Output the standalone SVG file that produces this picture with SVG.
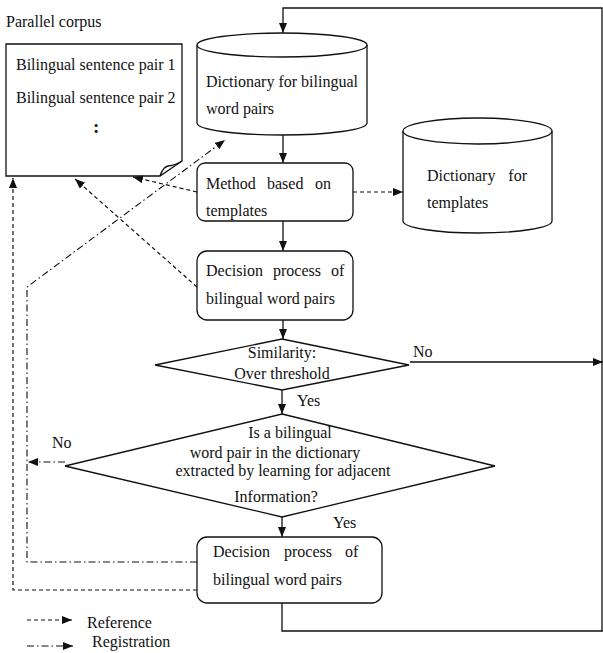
<svg xmlns="http://www.w3.org/2000/svg" width="603" height="653" viewBox="0 0 603 653">
<defs>
<style>
text{font-family:"Liberation Serif","Times New Roman",serif;font-size:16px;fill:#111}
.s{fill:#fff;stroke:#111;stroke-width:1.3}
.ln{fill:none;stroke:#111;stroke-width:1.3}
.da{fill:none;stroke:#111;stroke-width:1.2;stroke-dasharray:4 3}
.dd{fill:none;stroke:#111;stroke-width:1.1;stroke-dasharray:7 3 1.5 3}
.c{text-anchor:middle}
</style>
<marker id="ah" markerUnits="userSpaceOnUse" markerWidth="10" markerHeight="8" refX="10" refY="4" orient="auto">
<path d="M0,0 L10,4 L0,8 z" fill="#111"/>
</marker>
</defs>
<rect width="603" height="653" fill="#fff"/>

<g id="corpus">
<text x="6" y="27">Parallel corpus</text>
<path class="s" d="M6,44 H182 V161 L160,176 H6 Z"/>
<path class="ln" d="M160,176 Q163,167 168,166 Q176,165 182,161"/>
<text x="16" y="70">Bilingual sentence pair 1</text>
<text x="16" y="103">Bilingual sentence pair 2</text>
<text x="93" y="133" style="font-size:19px;font-weight:bold">:</text>
</g>

<g id="dict-words">
<path class="s" d="M197,45 V123 A85,12 0 0 0 367,123 V45"/>
<ellipse class="s" cx="282" cy="45" rx="85" ry="12"/>
<text x="206" y="87">Dictionary for bilingual</text>
<text x="206" y="114">word pairs</text>
</g>

<g id="method">
<rect class="s" x="197" y="163" width="156" height="58" rx="8"/>
<text y="189"><tspan x="206">Method</tspan><tspan x="267">based</tspan><tspan x="315">on</tspan></text>
<text x="206" y="216">templates</text>
</g>

<g id="dict-templates">
<path class="s" d="M403,131 V221 A74.5,12 0 0 0 552,221 V131"/>
<ellipse class="s" cx="477.5" cy="131" rx="74.5" ry="13"/>
<text x="427" y="181">Dictionary</text>
<text x="527" y="181" style="text-anchor:end">for</text>
<text x="427" y="208">templates</text>
</g>

<g id="decision1">
<rect class="s" x="197" y="251" width="156" height="69" rx="10"/>
<text y="276"><tspan x="206">Decision</tspan><tspan x="273">process</tspan><tspan x="331">of</tspan></text>
<text x="206" y="304">bilingual word pairs</text>
</g>

<g id="similarity">
<path class="s" d="M282,339 L409,365 L282,390 L155,365 Z"/>
<text class="c" x="282" y="358">Similarity:</text>
<text class="c" x="282" y="379">Over threshold</text>
</g>

<g id="adjacent">
<path class="s" d="M282,414 L495,466 L282,517 L65,466 Z"/>
<text class="c" x="290" y="438">Is a bilingual</text>
<text class="c" x="275" y="458">word pair in the dictionary</text>
<text class="c" x="283" y="476">extracted by learning for adjacent</text>
<text class="c" x="276" y="502">Information?</text>
</g>

<g id="decision2">
<rect class="s" x="197" y="537" width="185" height="66" rx="10"/>
<text y="557"><tspan x="213">Decision</tspan><tspan x="284">process</tspan><tspan x="345">of</tspan></text>
<text x="213" y="585">bilingual word pairs</text>
</g>

<g id="connectors">
<polyline class="ln" points="602,631 602,8 283,8 283,33" marker-end="url(#ah)"/>
<line class="ln" x1="283" y1="135" x2="283" y2="163" marker-end="url(#ah)"/>
<line class="ln" x1="283" y1="221" x2="283" y2="251" marker-end="url(#ah)"/>
<line class="ln" x1="283" y1="320" x2="283" y2="339" marker-end="url(#ah)"/>
<line class="ln" x1="282" y1="390" x2="282" y2="414" marker-end="url(#ah)"/>
<line class="ln" x1="282" y1="517" x2="282" y2="537" marker-end="url(#ah)"/>
<line class="ln" x1="410" y1="362" x2="603" y2="362" marker-end="url(#ah)"/>
<polyline class="ln" points="282,603 282,631 603,631"/>
<text x="413" y="357">No</text>
<text x="297" y="406">Yes</text>
<text x="333" y="528">Yes</text>
<text x="52" y="448">No</text>

<line class="da" x1="353" y1="192" x2="403" y2="192" marker-end="url(#ah)"/>
<line class="da" x1="197" y1="192" x2="133" y2="177" marker-end="url(#ah)"/>
<line class="da" x1="197" y1="287" x2="75" y2="179" marker-end="url(#ah)"/>
<polyline class="da" points="197,590 13,590 13,178" marker-end="url(#ah)"/>

<polyline class="dd" points="197,562 27,562 27,287 225,140" marker-end="url(#ah)"/>
<line class="dd" x1="65" y1="462" x2="28" y2="462" marker-end="url(#ah)"/>

<line class="da" x1="27" y1="620" x2="72" y2="620" marker-end="url(#ah)"/>
<text x="87" y="628">Reference</text>
<line class="dd" x1="27" y1="646" x2="73" y2="646" marker-end="url(#ah)"/>
<text x="92" y="647">Registration</text>
</g>
</svg>
